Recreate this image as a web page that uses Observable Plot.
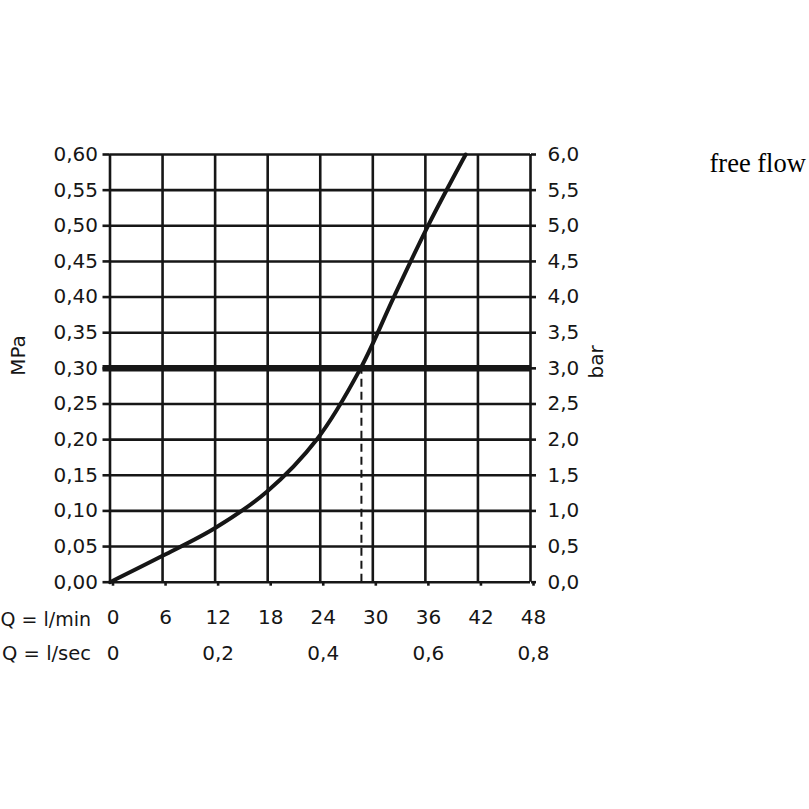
<!DOCTYPE html>
<html>
<head>
<meta charset="utf-8">
<script src="https://cdn.jsdelivr.net/npm/d3@7"></script>
<script src="https://cdn.jsdelivr.net/npm/@observablehq/plot@0.6"></script>
<style>
  html, body { margin: 0; padding: 0; background: #fff; }
</style>
</head>
<body>
<div id="chart"></div>
<script>
// flow in l/min
const flowLmin = [0, 6, 12, 17.9, 23.65, 28.6, 32.4, 36.3, 40.6];
// pressure in MPa
const pressureMPa = [0, 0.037, 0.076, 0.127, 0.201, 0.30, 0.40, 0.50, 0.60];

const qTicks = [0, 6, 12, 18, 24, 30, 36, 42, 48];           // l/min
const secTicks = [0, 0.2, 0.4, 0.6, 0.8];                     // l/sec
const pTicks = [0, 0.05, 0.10, 0.15, 0.20, 0.25, 0.30, 0.35, 0.40, 0.45, 0.50, 0.55, 0.60]; // MPa
const refPressure = 0.30;   // MPa
const refFlow = 28.7;       // l/min at reference pressure
const seriesLabel = "free flow";

const curve = flowLmin.map((q, i) => ({q, p: pressureMPa[i]}));
const comma = (v, n) => v.toFixed(n).replace(".", ",");
const ink = "#161616";

const chart = Plot.plot({
  width: 809,
  height: 809,
  marginLeft: 109.5,
  marginRight: 279,
  marginTop: 154,
  marginBottom: 227.3,
  style: {fontFamily: "DejaVu Sans", fontSize: "20px", color: ink, background: "#fff"},
  x: {domain: [0, 48]},
  y: {domain: [0, 0.6]},
  marks: [
    // grid
    Plot.ruleX(qTicks, {x: d => d, y1: 0, y2: 0.6, stroke: ink, strokeWidth: 2.6}),
    Plot.ruleY(pTicks.filter(d => d !== refPressure), {y: d => d, x1: 0, x2: 48, stroke: ink, strokeWidth: 2.6}),
    // left axis
    Plot.axisY({ticks: pTicks, anchor: "left", tickSize: 7, tickPadding: 5, strokeWidth: 2.6, stroke: ink,
      tickFormat: d => comma(d, 2), label: null, fill: ink}),
    // right axis
    Plot.axisY({ticks: pTicks, anchor: "right", tickSize: 5, tickPadding: 12, strokeWidth: 2.6, stroke: ink,
      tickFormat: d => comma(d * 10, 1), label: null, fill: ink}),
    // bottom axis l/min
    Plot.axisX({ticks: qTicks, anchor: "bottom", tickSize: 4, tickPadding: 24, strokeWidth: 2.6, stroke: ink,
      tickFormat: d => String(d), label: null, dx: 3, fill: ink}),
    // second row l/sec
    Plot.text(secTicks, {x: d => d * 60, y: 0, text: d => d === 0 ? "0" : comma(d, 1), dx: 3, dy: 77.5,
      lineAnchor: "bottom", textAnchor: "middle", fill: ink}),
    // row labels
    Plot.text(["Q = l/min"], {x: 0, y: 0, text: d => d, dx: -19, dy: 43.5, lineAnchor: "bottom", textAnchor: "end", fill: ink, fontSize: 19}),
    Plot.text(["Q = l/sec"], {x: 0, y: 0, text: d => d, dx: -19, dy: 77.5, lineAnchor: "bottom", textAnchor: "end", fill: ink, fontSize: 19.5}),
    // axis titles
    Plot.text(["MPa"], {x: 0, y: 0.318, text: d => d, dx: -91, rotate: -90, lineAnchor: "middle", textAnchor: "middle", fill: ink}),
    Plot.text(["bar"], {x: 48, y: 0.309, text: d => d, dx: 66, rotate: -90, lineAnchor: "middle", textAnchor: "middle", fill: ink}),
    // reference pressure line
    Plot.ruleY([refPressure], {y: d => d, x1: 0, x2: 48, stroke: ink, strokeWidth: 6.5, insetLeft: -7}),
    // dashed drop line
    Plot.ruleX([refFlow], {x: d => d, y1: 0, y2: refPressure, stroke: ink, strokeWidth: 2, strokeDasharray: "8,5"}),
    // curve
    Plot.line(curve, {x: "q", y: "p", curve: "catmull-rom", stroke: ink, strokeWidth: 4}),
    // series label
    Plot.text([seriesLabel], {x: 48, y: 0.6, text: d => d, dx: 179, dy: 17, lineAnchor: "bottom", textAnchor: "start",
      fontFamily: "Liberation Serif", fontSize: 26.5, fill: "#000"})
  ]
});
document.getElementById("chart").appendChild(chart);
</script>
</body>
</html>
